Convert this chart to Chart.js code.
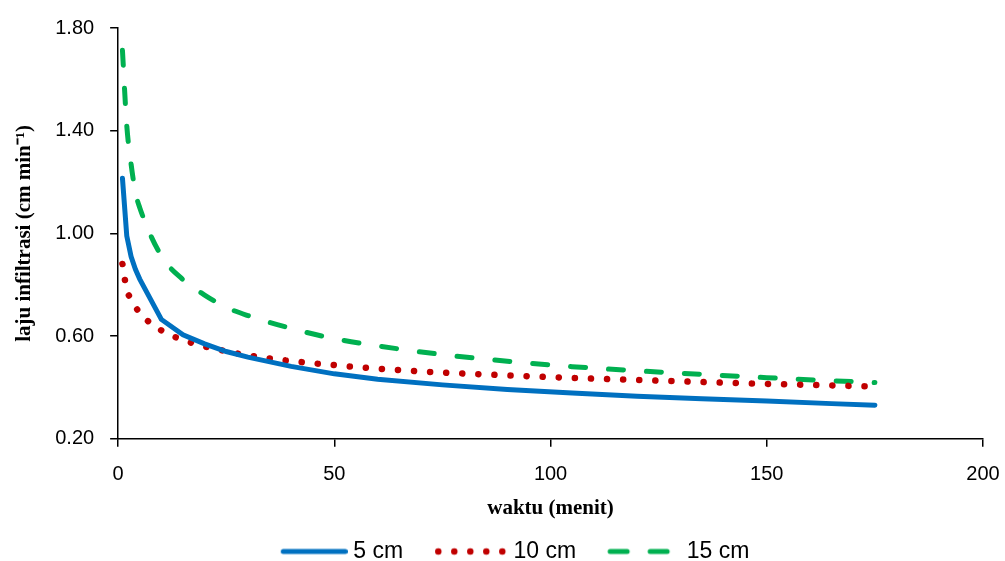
<!DOCTYPE html>
<html>
<head>
<meta charset="utf-8">
<script src="https://cdn.jsdelivr.net/npm/chart.js@4.4.1/dist/chart.umd.min.js"></script>
<style>
  html, body { margin: 0; padding: 0; background: #fff; }
  #wrap { width: 1005px; height: 561px; }
</style>
</head>
<body>
<div id="wrap"><canvas id="chart"></canvas></div>
<script>
// waktu (menit)
const times = [1, 2, 3, 4, 5, 10, 15, 20, 25, 30, 40, 50, 60, 75, 90, 105, 120, 135, 150, 165, 175];

// laju infiltrasi (cm/min)
const rate5 = [1.215, 0.99, 0.91, 0.86, 0.822, 0.665, 0.605, 0.570, 0.540, 0.518, 0.482, 0.453, 0.432, 0.410, 0.392, 0.378, 0.366, 0.356, 0.347, 0.337, 0.331];
const rate10 = [0.881, 0.78, 0.745, 0.715, 0.69, 0.622, 0.585, 0.560, 0.541, 0.525, 0.503, 0.487, 0.473, 0.458, 0.447, 0.437, 0.429, 0.421, 0.414, 0.408, 0.403];
const rate15 = [1.713, 1.42, 1.27, 1.16, 1.10, 0.912, 0.82, 0.76, 0.712, 0.68, 0.63, 0.59, 0.562, 0.528, 0.502, 0.481, 0.465, 0.451, 0.438, 0.426, 0.419];

const yTicks = [0.20, 0.60, 1.00, 1.40, 1.80];
const xTicks = [0, 50, 100, 150, 200];

function toPoints(vals) {
    return times.map((t, i) => ({ x: t, y: vals[i] }));
}

// small canvas used as legend sample (line with the dataset's dash)
function legendSample(color, width, dash, from, to) {
    const c = document.createElement('canvas');
    c.width = 111;
    c.height = 12;
    const g = c.getContext('2d');
    g.strokeStyle = color;
    g.lineWidth = width;
    g.lineCap = 'round';
    g.setLineDash(dash);
    g.beginPath();
    g.moveTo(from, 6);
    g.lineTo(to, 6);
    g.stroke();
    return c;
}

const tickFont = { family: 'Liberation Sans', size: 20 };
const legendFont = { family: 'Liberation Sans', size: 23 };
const titleFont = { family: 'Liberation Serif', size: 21, weight: 'bold' };

const ctx = document.getElementById('chart').getContext('2d');

new Chart(ctx, {
    type: 'line',
    data: {
        datasets: [
            {
                label: '5 cm',
                data: toPoints(rate5),
                borderColor: '#0070c0',
                backgroundColor: '#0070c0',
                borderWidth: 5,
                borderCapStyle: 'round',
                pointRadius: 0,
                pointStyle: legendSample('#0070c0', 5, [], 46.5, 108.5),
                tension: 0
            },
            {
                label: '10 cm',
                data: toPoints(rate10),
                borderColor: '#c00000',
                backgroundColor: '#c00000',
                borderWidth: 6.5,
                borderDash: [0.1, 16],
                borderCapStyle: 'round',
                pointRadius: 0,
                pointStyle: legendSample('#c00000', 6.5, [0.01, 15.99], 41.25, 105.5),
                tension: 0.3,
                cubicInterpolationMode: 'monotone'
            },
            {
                label: '15 cm',
                data: toPoints(rate15),
                borderColor: '#00b050',
                backgroundColor: '#00b050',
                borderWidth: 5,
                borderDash: [15, 23],
                borderCapStyle: 'round',
                pointRadius: 0,
                pointStyle: legendSample('#00b050', 5, [17, 23], 40, 97),
                tension: 0.3,
                cubicInterpolationMode: 'monotone'
            }
        ]
    },
    options: {
        responsive: true,
        maintainAspectRatio: false,
        animation: false,
        layout: {
            padding: { top: 18, right: 22, left: 9, bottom: -12 }
        },
        scales: {
            x: {
                type: 'linear',
                min: 0,
                max: 200,
                afterBuildTicks: axis => { axis.ticks = xTicks.map(v => ({ value: v })); },
                afterFit: axis => { axis.paddingRight = 0; },
                ticks: {
                    font: tickFont,
                    color: '#000',
                    padding: 16
                },
                grid: {
                    drawOnChartArea: false,
                    drawTicks: true,
                    tickLength: 8,
                    color: '#000',
                    lineWidth: 1.5
                },
                border: { color: '#000', width: 1.5 },
                title: {
                    display: true,
                    text: 'waktu (menit)',
                    font: titleFont,
                    color: '#000',
                    padding: { top: -7, bottom: 19 }
                }
            },
            y: {
                min: 0.2,
                max: 1.8,
                afterBuildTicks: axis => { axis.ticks = yTicks.map(v => ({ value: v })); },
                ticks: {
                    font: tickFont,
                    color: '#000',
                    padding: 16,
                    callback: v => Number(v).toFixed(2)
                },
                grid: {
                    drawOnChartArea: false,
                    drawTicks: true,
                    tickLength: 8,
                    color: '#000',
                    lineWidth: 1.5
                },
                border: { color: '#000', width: 1.5 },
                title: {
                    display: true,
                    text: 'laju infiltrasi (cm min\u207B\u00B9)',
                    font: titleFont,
                    color: '#000',
                    padding: { top: 3, bottom: 2 }
                }
            }
        },
        plugins: {
            legend: {
                position: 'bottom',
                labels: {
                    usePointStyle: true,
                    pointStyleWidth: 99,
                    boxHeight: 12,
                    font: legendFont,
                    color: '#000',
                    padding: 0
                }
            },
            tooltip: { enabled: false }
        }
    }
});
</script>
</body>
</html>
